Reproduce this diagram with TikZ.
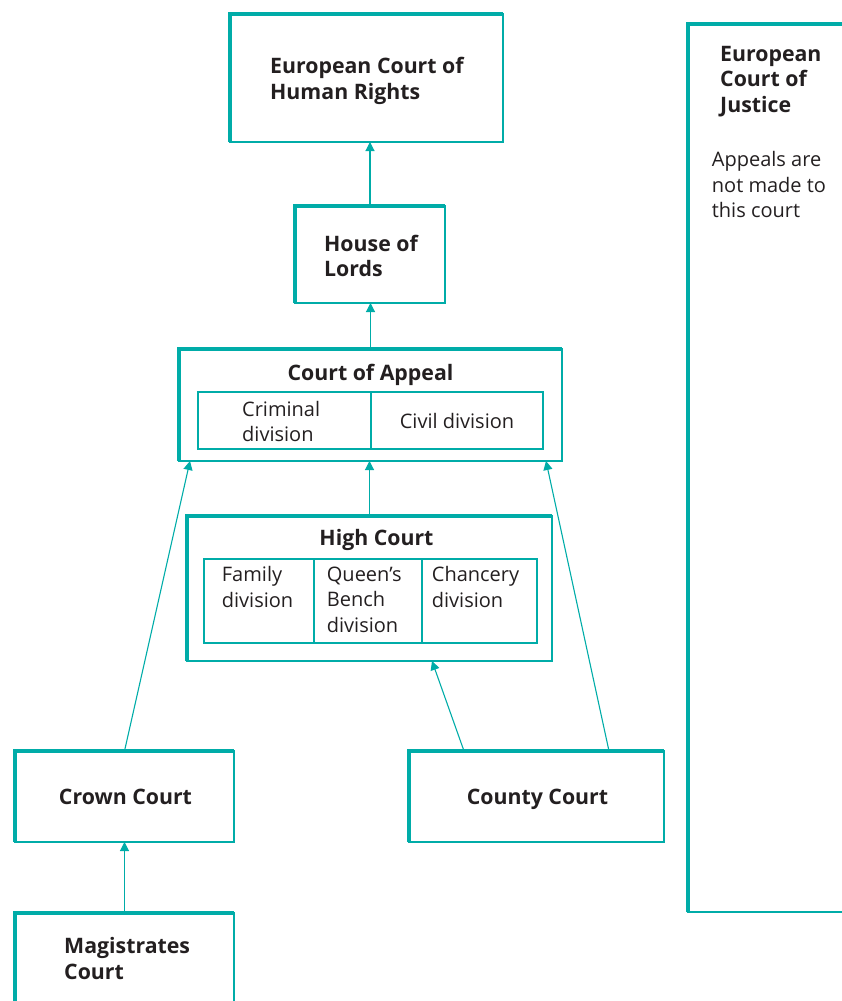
\documentclass[tikz,border=0pt]{standalone}
\usepackage{fontspec}
\setmainfont{Open Sans}
\usetikzlibrary{arrows.meta}
\definecolor{tealc}{RGB}{0,172,168}
\definecolor{ink}{RGB}{35,31,32}
\begin{document}
\begin{tikzpicture}[x=1pt,y=-1pt,
  box/.style={draw=tealc, line width=1.2pt, inner sep=0pt, outer sep=0pt},
  cell/.style={draw=tealc, line width=1.1pt, inner sep=0pt, outer sep=0pt},
  thickb/.style={draw=tealc, line width=4pt, line join=miter},
  txt/.style={text=ink, inner sep=0pt, align=left, font=\fontsize{20}{25.5}\selectfont},
  btxt/.style={txt, font=\fontsize{21.3}{25.5}\selectfont\bfseries},
  arr/.style={draw=tealc, line width=1.1pt, -{Triangle[length=9pt,width=9pt]}}]
\useasboundingbox (0,0) rectangle (842,1001);
\clip (0,0) rectangle (842,1001);
% boxes
\node[box, minimum width=273, minimum height=128] (echr) at (366.5,78) {};
\node[box, minimum width=150, minimum height=97] (hol) at (370,254.5) {};
\node[box, minimum width=383, minimum height=112] (coa) at (370.5,405) {};
\node[cell, minimum width=173, minimum height=57] (crim) at (284.5,420.5) {};
\node[cell, minimum width=172, minimum height=57] (civ) at (457,420.5) {};
\node[box, minimum width=365, minimum height=145] (hc) at (369.5,588.5) {};
\node[cell, minimum width=110, minimum height=84] (fam) at (259,601) {};
\node[cell, minimum width=108, minimum height=84] (qb) at (368,601) {};
\node[cell, minimum width=115, minimum height=84] (ch) at (479.5,601) {};
\node[box, minimum width=219, minimum height=91] (crown) at (124.5,796.5) {};
\node[box, minimum width=219, minimum height=91] (mag) at (124.5,958.5) {};
\node[box, minimum width=255, minimum height=91] (county) at (536.5,796.5) {};
\node[box, minimum width=212, minimum height=888] (ecj) at (794,468) {};
% thick top and left edges
\foreach \n in {echr,hol,coa,hc,crown,mag,county,ecj}
  \draw[thickb] (\n.south west) -- (\n.north west) -- (\n.north east);
% texts
\node[btxt, anchor=north west] (echrt) at (270,57.5) {European Court of\\Human Rights};
\node[btxt, anchor=north west] (holt) at (324,234.8) {House of\\Lords};
\node[btxt, anchor=base] (coat) at (370.5,380) {Court of Appeal};
\node[txt, anchor=north west] (crimt) at (242,401) {Criminal\\division};
\node[txt, anchor=base] (civt) at (457,428) {Civil division};
\node[btxt, anchor=base] (hct) at (376.5,545) {High Court};
\node[txt, anchor=north west] (famt) at (221.7,566.5) {Family\\division};
\node[txt, anchor=north west] (qbt) at (326.7,566.5) {Queen’s\\Bench\\division};
\node[txt, anchor=north west] (cht) at (431.7,566.5) {Chancery\\division};
\node[btxt, anchor=base] (crownt) at (125.5,804) {Crown Court};
\node[btxt, anchor=base] (countyt) at (537.5,804) {County Court};
\node[btxt, anchor=north west] (magt) at (64,937.5) {Magistrates\\Court};
\node[btxt, anchor=north west] (ecjt) at (720,45.7) {European\\Court of\\Justice};
\node[txt, anchor=north west] (ecjn) at (711.7,151.5) {Appeals are\\not made to\\this court};
% connectors
\draw[arr] (hol.north) -- (hol.north |- echr.south);
\draw[arr] (coa.north) -- (coa.north |- hol.south);
\draw[arr] (hc.north) -- (hc.north |- coa.south);
\draw[arr] (crown.north) -- ([xshift=11pt]coa.south west);
\draw[arr] ([xshift=200pt]county.north west) -- ([xshift=-16pt]coa.south east);
\draw[arr] ([xshift=55pt]county.north west) -- ([xshift=245pt]hc.south west);
\draw[arr] (mag.north) -- (crown.south);
\end{tikzpicture}
\end{document}
